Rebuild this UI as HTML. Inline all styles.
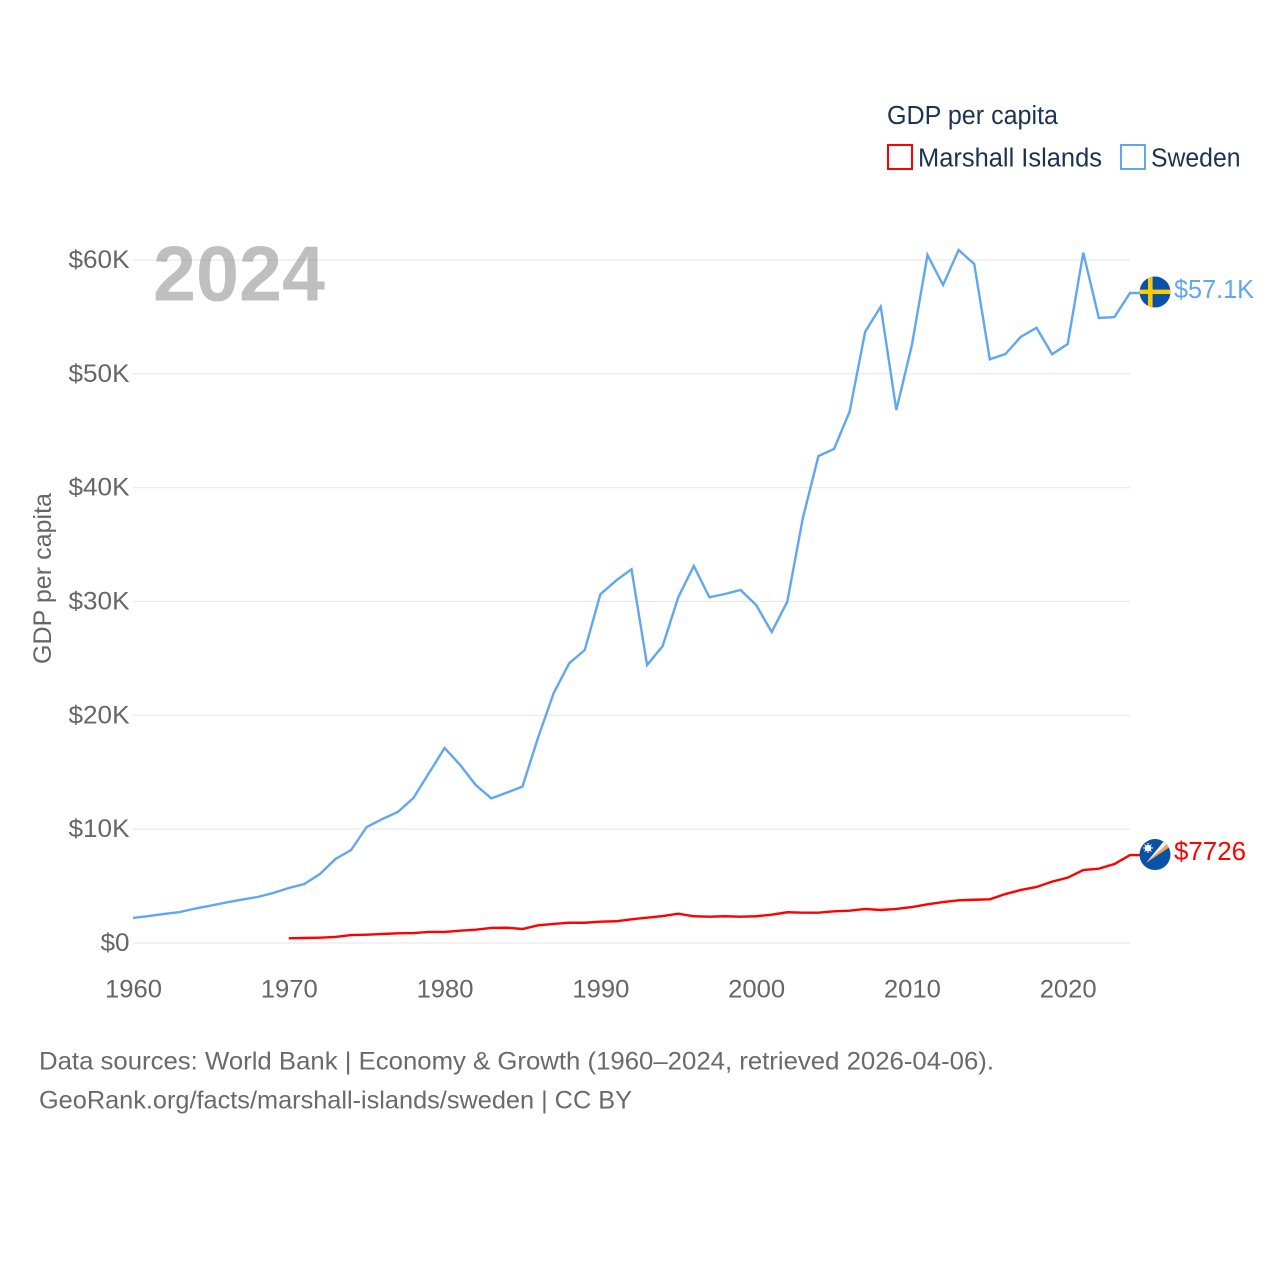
<!DOCTYPE html>
<html lang="en">
<head>
<meta charset="utf-8">
<title>GDP per capita: Marshall Islands and Sweden</title>
<style>
html,body{margin:0;padding:0;background:#fff;width:1280px;height:1280px;overflow:hidden}
svg{display:block}
text{font-family:"Liberation Sans",Arial,sans-serif}
</style>
</head>
<body>
<svg id="chart" width="1280" height="1280" viewBox="0 0 1280 1280" xmlns="http://www.w3.org/2000/svg">
  <rect width="1280" height="1280" fill="#fff"/>
  <g id="grid"></g>
  <g id="yticks"></g>
  <g id="xticks"></g>
  <g id="series"></g>
  <text x="153" y="300.5" font-size="78" font-weight="700" fill="#808080" fill-opacity="0.5" textLength="172" lengthAdjust="spacingAndGlyphs">2024</text>
  <text transform="translate(51,664) rotate(-90)" font-size="25" fill="#666" textLength="171" lengthAdjust="spacingAndGlyphs">GDP per capita</text>

  <g>
    <text x="887" y="124" font-size="25.5" fill="#1a3353" textLength="171" lengthAdjust="spacingAndGlyphs">GDP per capita</text>
    <rect x="888" y="145" width="24" height="24" fill="#fff" stroke="#ff0000" stroke-width="2"/>
    <text x="918" y="166.5" font-size="25.5" fill="#1a3353" textLength="184" lengthAdjust="spacingAndGlyphs">Marshall Islands</text>
    <rect x="1121" y="145" width="24" height="24" fill="#fff" stroke="#5fa8ef" stroke-width="2"/>
    <text x="1151" y="166.5" font-size="25.5" fill="#1a3353" textLength="89.5" lengthAdjust="spacingAndGlyphs">Sweden</text>
  </g>

  <defs>
    <clipPath id="flag-clip"><circle cx="0" cy="0" r="15.5"/></clipPath>
  </defs>
  <g id="flag-se">
    <g clip-path="url(#flag-clip)">
      <rect x="-16" y="-16" width="32" height="32" fill="#0a52a8"/>
      <rect x="-7" y="-16" width="4.6" height="32" fill="#fecc00"/>
      <rect x="-16" y="-2.4" width="32" height="4.4" fill="#fecc00"/>
    </g>
  </g>
  <g id="flag-mh">
    <g clip-path="url(#flag-clip)">
      <rect x="-16" y="-16" width="32" height="32" fill="#0a52a8"/>
      <polygon points="-9,8.5 11.5,-10 14,-7" fill="#f5a742"/>
      <polygon points="-9,8.5 9,-13.5 11.5,-10" fill="#f4f4f4"/>
      <circle cx="-7" cy="-6.5" r="3.2" fill="#fff"/>
      <path d="M-7,-11.5V-1.5M-12,-6.5H-2M-10.5,-10L-3.5,-3M-10.5,-3L-3.5,-10" stroke="#fff" stroke-width="1"/>
    </g>
  </g>
  <text id="label-se" x="1174" font-size="26" fill="#5fa8ef"></text>
  <text id="label-mh" x="1174" font-size="26" fill="#ff0000"></text>

  <g>
    <text x="39" y="1069.5" font-size="25" fill="#6a6a6a" textLength="955" lengthAdjust="spacingAndGlyphs">Data sources: World Bank | Economy &amp; Growth (1960–2024, retrieved 2026-04-06).</text>
    <text x="39" y="1108.5" font-size="25" fill="#6a6a6a" textLength="593" lengthAdjust="spacingAndGlyphs">GeoRank.org/facts/marshall-islands/sweden | CC BY</text>
  </g>
</svg>
<script>
const xTickYears = [1960, 1970, 1980, 1990, 2000, 2010, 2020];
const yTickValues = [0, 10, 20, 30, 40, 50, 60];
const yTickLabels = ["$0", "$10K", "$20K", "$30K", "$40K", "$50K", "$60K"];
const swedenStartYear = 1960;
const swedenValues = [
  2.2, 2.37, 2.55, 2.72, 3.03, 3.29, 3.56, 3.82, 4.04, 4.39,
  4.83, 5.18, 6.06, 7.38, 8.17, 10.19, 10.89, 11.51, 12.74, 14.93,
  17.13, 15.64, 13.88, 12.71, 13.21, 13.74, 18.03, 21.94, 24.57, 25.74,
  30.63, 31.83, 32.83, 24.42, 26.09, 30.37, 33.12, 30.37, 30.66, 31.01,
  29.69, 27.32, 29.98, 37.34, 42.78, 43.4, 46.67, 53.7, 55.9, 46.82,
  52.53, 60.44, 57.8, 60.88, 59.65, 51.28, 51.74, 53.26, 54.05, 51.72,
  52.62, 60.64, 54.91, 54.99, 57.1
];
const marshallStartYear = 1970;
const marshallValues = [
  0.41, 0.44, 0.47, 0.53, 0.70, 0.73, 0.79, 0.85, 0.87, 0.97,
  0.97, 1.08, 1.17, 1.32, 1.34, 1.23, 1.55, 1.67, 1.78, 1.78,
  1.87, 1.91, 2.08, 2.22, 2.37, 2.57, 2.35, 2.31, 2.35, 2.31,
  2.35, 2.49, 2.70, 2.66, 2.66, 2.78, 2.84, 2.99, 2.90, 2.99,
  3.16, 3.40, 3.60, 3.75, 3.80, 3.84, 4.30, 4.66, 4.92, 5.39,
  5.74, 6.41, 6.53, 6.94, 7.726
];
const swedenEndLabel = "$57.1K";
const marshallEndLabel = "$7726";

const NS = "http://www.w3.org/2000/svg";
const xScale = function (year) { return 133 + (year - 1960) * (1130 - 133) / 64; };
const yScale = function (v) { return 943 - v * (943 - 260) / 60; };
const tickWidth = function (s) { return s.length === 2 ? 29 : 61; };

function make(tag, parent, attrs) {
  const el = document.createElementNS(NS, tag);
  for (const k in attrs) el.setAttribute(k, attrs[k]);
  parent.appendChild(el);
  return el;
}

const gridGroup = document.getElementById("grid");
const yGroup = document.getElementById("yticks");
yTickValues.forEach(function (v, i) {
  const line = make("line", gridGroup, {
    x1: 133, x2: 1130, y1: yScale(v), y2: yScale(v),
    stroke: "#e9e9e9", "stroke-width": 1.2
  });
  
  
  const label = make("text", yGroup, {
    x: 129.5, y: yScale(v) + 8, "text-anchor": "end", "font-size": 25, fill: "#666",
    textLength: tickWidth(yTickLabels[i]), lengthAdjust: "spacingAndGlyphs"
  });
  label.textContent = yTickLabels[i];
  
  
});

const xGroup = document.getElementById("xticks");
xTickYears.forEach(function (yr) {
  const label = make("text", xGroup, {
    x: xScale(yr) + 0.5, y: 997.5, "text-anchor": "middle", "font-size": 25, fill: "#666",
    textLength: 57, lengthAdjust: "spacingAndGlyphs"
  });
  label.textContent = String(yr);
  
  
});

function linePath(startYear, values) {
  const pts = values.map(function (v, i) {
    return xScale(startYear + i).toFixed(2) + "," + yScale(v).toFixed(2);
  });
  const last = values[values.length - 1];
  pts.push("1140," + yScale(last).toFixed(2));
  return pts.join(" ");
}

const seriesGroup = document.getElementById("series");
const swedenLine = make("polyline", seriesGroup, {
  points: linePath(swedenStartYear, swedenValues),
  fill: "none", stroke: "#5fa8ef", "stroke-width": 2.4, "stroke-linejoin": "miter"
});


const marshallLine = make("polyline", seriesGroup, {
  points: linePath(marshallStartYear, marshallValues),
  fill: "none", stroke: "#ff0000", "stroke-width": 2.4, "stroke-linejoin": "miter"
});



const seY = yScale(swedenValues[swedenValues.length - 1]);
const mhY = yScale(marshallValues[marshallValues.length - 1]);
document.getElementById("flag-se").setAttribute("transform", "translate(1155," + (seY - 1) + ")");
document.getElementById("flag-mh").setAttribute("transform", "translate(1155," + (mhY - 0.5) + ")");
const seLabel = document.getElementById("label-se");
seLabel.textContent = swedenEndLabel;
seLabel.setAttribute("y", seY + 5);
seLabel.setAttribute("textLength", 80);
seLabel.setAttribute("lengthAdjust", "spacingAndGlyphs");
const mhLabel = document.getElementById("label-mh");
mhLabel.textContent = marshallEndLabel;
mhLabel.setAttribute("y", mhY + 5);
mhLabel.setAttribute("textLength", 72);
mhLabel.setAttribute("lengthAdjust", "spacingAndGlyphs");
</script>
</body>
</html>
